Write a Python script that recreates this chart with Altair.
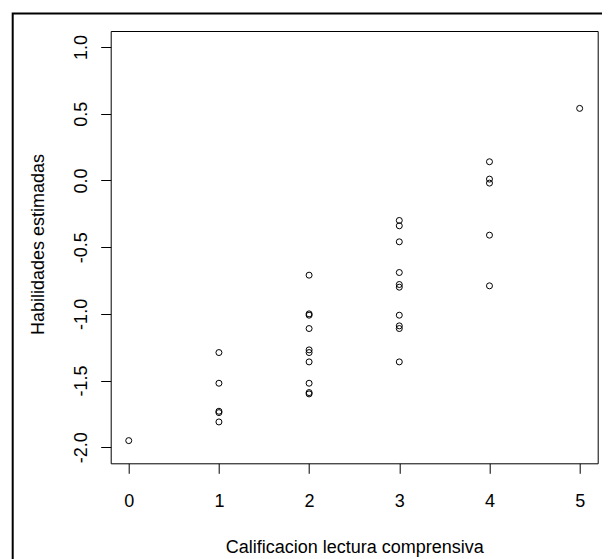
import altair as alt
import pandas as pd

# Data
x0 = [0]
y0 = [-1.95]
x1 = [1, 1, 1, 1, 1]
y1 = [-1.29, -1.52, -1.73, -1.74, -1.81]
x2 = [2] * 10
y2 = [-0.71, -1.00, -1.01, -1.11, -1.27, -1.29, -1.36, -1.52, -1.59, -1.60]
x3 = [3] * 10
y3 = [-0.30, -0.34, -0.46, -0.69, -0.78, -0.80, -1.01, -1.09, -1.11, -1.36]
x4 = [4] * 5
y4 = [0.14, 0.01, -0.02, -0.41, -0.79]
x5 = [5]
y5 = [0.54]

x_ticks = [0, 1, 2, 3, 4, 5]
y_ticks = [-2.0, -1.5, -1.0, -0.5, 0.0, 0.5, 1.0]
x_title = "Calificacion lectura comprensiva"
y_title = "Habilidades estimadas"

df = pd.DataFrame({
    "cal": x0 + x1 + x2 + x3 + x4 + x5,
    "hab": y0 + y1 + y2 + y3 + y4 + y5,
})

FONT = "Liberation Sans"

points = alt.Chart(df).mark_point(
    shape="circle", filled=False, stroke="black", strokeWidth=1, size=36, opacity=1
).encode(
    x=alt.X("cal:Q",
            scale=alt.Scale(domain=[-0.2, 5.2], nice=False, zero=False),
            axis=alt.Axis(values=x_ticks, format="d", title=x_title,
                          tickSize=10, tickColor="black", tickWidth=1,
                          domain=False, grid=False,
                          labelFont=FONT, labelFontSize=18, labelColor="black",
                          labelBaseline="alphabetic", labelPadding=33.4,
                          labelFlush=False, labelOverlap=False,
                          titleFont=FONT, titleFontSize=18, titleFontWeight="normal",
                          titleColor="black", titleBaseline="alphabetic",
                          titleY=89.4, titleX=243.5, titleAlign="center")),
    y=alt.Y("hab:Q",
            scale=alt.Scale(domain=[-2.12, 1.12], nice=False, zero=False),
            axis=alt.Axis(values=y_ticks, title=y_title,
                          labelExpr="replace(format(datum.value, '.1f'), '\u2212', '-')",
                          tickSize=10, tickColor="black", tickWidth=1,
                          domain=False, grid=False,
                          labelFont=FONT, labelFontSize=18, labelColor="black",
                          labelAngle=270, labelAlign="center",
                          labelBaseline="alphabetic", labelPadding=14.2,
                          labelFlush=False, labelOverlap=False,
                          titleFont=FONT, titleFontSize=18, titleFontWeight="normal",
                          titleColor="black", titleAngle=270, titleAlign="center",
                          titleBaseline="alphabetic", titleX=-67.4, titleY=213)),
)

frame = alt.Chart(pd.DataFrame({"a": [0]})).mark_rect(
    fill="transparent", stroke="black", strokeWidth=2, clip=False
).encode(
    x=alt.value(-98), x2=alt.value(2000),
    y=alt.value(-17.5), y2=alt.value(2000),
)

chart = alt.layer(frame, points).properties(
    width=487, height=432.3,
    autosize=alt.AutoSizeParams(type="none"),
    padding={"left": 102.7, "top": 23, "right": 4.3, "bottom": 95.7},
    background="white",
).configure_view(stroke="black", strokeWidth=1)

chart.save("out.html", embed_options={"renderer": "svg", "actions": False})
